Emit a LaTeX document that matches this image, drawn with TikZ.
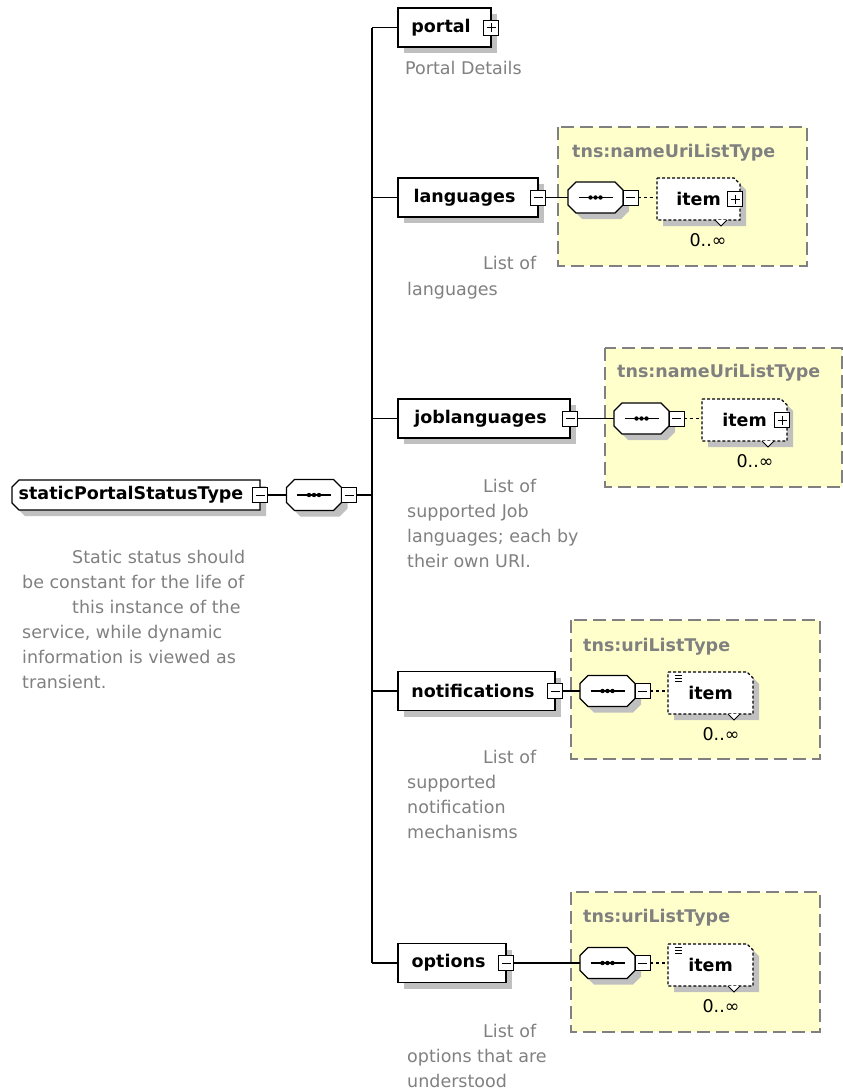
\documentclass[tikz,border=0pt]{standalone}
\usepackage{fontspec}
\setmainfont{DejaVu Sans}
\usetikzlibrary{calc}
\usetikzlibrary{shadows}
\usetikzlibrary{backgrounds}
\definecolor{notegray}{RGB}{128,128,128}
\definecolor{shadegray}{RGB}{192,192,192}
\definecolor{typeyellow}{RGB}{255,255,204}
\newcommand{\xsdfont}{\fontsize{17.5}{25}\selectfont}
\tikzset{
	shade/.style={drop shadow={shadow xshift=6pt, shadow yshift=-6pt, fill=shadegray, opacity=1}},
	label/.style={inner sep=0pt, outer sep=0pt, font=\xsdfont\bfseries},
	elem/.style={label, draw, fill=white, line width=1.3pt, shade, minimum height=39pt, execute at end node={\hspace{7pt}}},
	rootlabel/.style={label, minimum height=30pt, execute at end node={\hspace{10pt}}},
	seqbox/.style={label, minimum width=55pt, minimum height=31pt},
	itembox/.style={label, minimum height=42pt, minimum width=85pt},
	outline/.style={draw, fill=white, line width=1.3pt, shade},
	itemline/.style={outline, line width=1.1pt, dash pattern=on 3pt off 2pt},
	pmbox/.style={draw, fill=white, line width=0.9pt, minimum size=15pt, inner sep=0pt, outer sep=0pt},
	minus/.style={pmbox, path picture={
			\draw[line width=0.9pt] ([xshift=3pt]path picture bounding box.west) -- ([xshift=-3pt]path picture bounding box.east);}},
	plus/.style={pmbox, path picture={
			\draw[line width=0.9pt] ([xshift=3pt]path picture bounding box.west) -- ([xshift=-3pt]path picture bounding box.east);
			\draw[line width=0.9pt] ([yshift=-3pt]path picture bounding box.north) -- ([yshift=3pt]path picture bounding box.south);}},
	typebox/.style={draw=notegray, fill=typeyellow, line width=1.3pt, dash pattern=on 13pt off 6pt},
	typetitle/.style={anchor=west, inner sep=0pt, text=notegray, font=\xsdfont\bfseries},
	note/.style={anchor=north west, inner sep=0pt, align=left, text=notegray, font=\xsdfont},
	mult/.style={inner sep=0pt, font=\xsdfont},
	conn/.style={line width=1.3pt},
	dconn/.style={line width=1.3pt, dash pattern=on 3pt off 3pt},
	notch/.style={line width=0.9pt, fill=white},
}

\begin{document}
\begin{tikzpicture}[x=1pt,y=-1pt]
	\useasboundingbox (0,0) rectangle (843,1092);

	% root
	\node[rootlabel, minimum width=248pt] (root) at (136,495) {staticPortalStatusType};
	\node[seqbox] (rootseq) at (314,495) {};
	\coordinate (spine) at (372,495);

	% elements
	\node[elem, minimum width=93pt] (portal) at (444.5,27.5) {portal};
	\node[elem, minimum width=140pt] (languages) at (468,197.5) {languages};
	\node[elem, minimum width=172pt] (joblanguages) at (484,418.5) {joblanguages};
	\node[elem, minimum width=157pt] (notifications) at (476.5,691) {notifications};
	\node[elem, minimum width=108pt] (options) at (452,963) {options};

	% sequences
	\node[seqbox] (langseq) at (595.5,197.5) {};
	\node[seqbox] (jobseq) at (641.5,418.5) {};
	\node[seqbox] (notifseq) at (607.5,691) {};
	\node[seqbox] (optseq) at (607.5,963) {};

	% items
	\node[itembox, minimum width=83pt] (langitem) at (698.5,199) {item\hspace{14pt}};
	\node[itembox] (jobitem) at (744.5,420) {item\hspace{14pt}};
	\node[itembox] (notifitem) at (710.5,693) {item\hspace{11pt}};
	\node[itembox] (optitem) at (710.5,965) {item\hspace{11pt}};

	% type boxes
	\node[typetitle] (langtype) at (572,153) {tns:nameUriListType};
	\node[typetitle] (jobtype) at (617,373) {tns:nameUriListType};
	\node[typetitle] (notiftype) at (583,647) {tns:uriListType};
	\node[typetitle] (opttype) at (583,918) {tns:uriListType};

	\begin{scope}[on background layer]
		\draw[typebox] (558,127) rectangle (807,266);
		\draw[typebox] (605,348) rectangle (842,487);
		\draw[typebox] (571,620) rectangle (820,759);
		\draw[typebox] (571,892) rectangle (820,1032);
		\draw[outline] ($(root.north west)+(7,0)$) -- (root.north east) -- (root.south east)
			-- ($(root.south west)+(7,0)$) -- ($(root.south west)+(0,-7)$) -- ($(root.north west)+(0,7)$) -- cycle;
		\foreach \s in {rootseq,langseq,jobseq,notifseq,optseq}
			\draw[outline] ($(\s.north west)+(8,0)$) -- ($(\s.north east)+(-8,0)$) -- ($(\s.north east)+(0,8)$)
				-- ($(\s.south east)+(0,-8)$) -- ($(\s.south east)+(-8,0)$) -- ($(\s.south west)+(8,0)$)
				-- ($(\s.south west)+(0,-8)$) -- ($(\s.north west)+(0,8)$) -- cycle;
		\foreach \i in {langitem,jobitem,notifitem,optitem}
			\draw[itemline] (\i.north west) -- ($(\i.north east)+(-6,0)$) -- ($(\i.north east)+(0,6)$)
				-- (\i.south east) -- (\i.south west) -- cycle;
	\end{scope}

	% sequence marks and expand boxes
	\foreach \s in {rootseq,langseq,jobseq,notifseq,optseq} {
		\draw[line width=1.6pt] ($(\s.center)+(-17,0)$) -- ($(\s.center)+(17,0)$);
		\foreach \d in {-5,0,5}
			\fill ($(\s.center)+(\d,0)$) circle (2.2pt);
		\node[minus, anchor=west] (\s m) at (\s.east) {};
	}
	\node[minus] (rootm) at (root.east) {};
	\node[plus] (portalm) at (portal.east) {};
	\node[minus] (languagesm) at (languages.east) {};
	\node[minus] (joblanguagesm) at (joblanguages.east) {};
	\node[minus] (notificationsm) at (notifications.east) {};
	\node[minus] (optionsm) at (options.east) {};
	\node[plus] (langitemp) at ($(langitem.east)+(-5,0)$) {};
	\node[plus] (jobitemp) at ($(jobitem.east)+(-5,0)$) {};
	\foreach \i in {notifitem,optitem}
		\foreach \k in {3,6,9}
			\draw[line width=0.8pt] ($(\i.north west)+(7,\k)$) -- ++(7,0);
	\foreach \i in {langitem,jobitem,notifitem,optitem} {
		\draw[notch] ($(\i.south east)+(-25,0)$) -- ++(6,6) -- ++(6,-6);
		\node[mult] (\i mult) at ($(\i.south east)+(-32,20)$) {0..∞};
	}

	% connectors
	\draw[conn] (rootm) -- (rootseq);
	\draw[conn] (rootseqm) -- (spine);
	\draw[conn] (spine |- portal) -- (spine |- options);
	\foreach \e in {portal,languages,joblanguages,notifications,options}
		\draw[conn] (spine |- \e) -- (\e);
	\draw[conn] (languagesm) -- (langseq);
	\draw[conn] (joblanguagesm) -- (jobseq);
	\draw[conn] (notificationsm) -- (notifseq);
	\draw[conn] (optionsm) -- (optseq);
	\draw[dconn] (langseqm) -- (langseqm -| langitem.west);
	\draw[dconn] (jobseqm) -- (jobseqm -| jobitem.west);
	\draw[dconn] (notifseqm) -- (notifseqm -| notifitem.west);
	\draw[dconn] (optseqm) -- (optseqm -| optitem.west);

	% annotations
	\node[note] (rootnote) at (22,549.5) {\hspace*{50pt}Static status should\\be constant for the life of\\\hspace*{50pt}this instance of the\\service, while dynamic\\information is viewed as\\transient.};
	\node[note] (portalnote) at (405,61.5) {Portal Details};
	\node[note] (langnote) at (407,256.5) {\hspace*{76pt}List of\\languages};
	\node[note] (jobnote) at (407,478.5) {\hspace*{76pt}List of\\supported Job\\languages; each by\\their own URI.};
	\node[note] (notifnote) at (407,749.5) {\hspace*{76pt}List of\\supported\\notification\\mechanisms};
	\node[note] (optnote) at (407,1023.5) {\hspace*{76pt}List of\\options that are\\understood};
\end{tikzpicture}
\end{document}
